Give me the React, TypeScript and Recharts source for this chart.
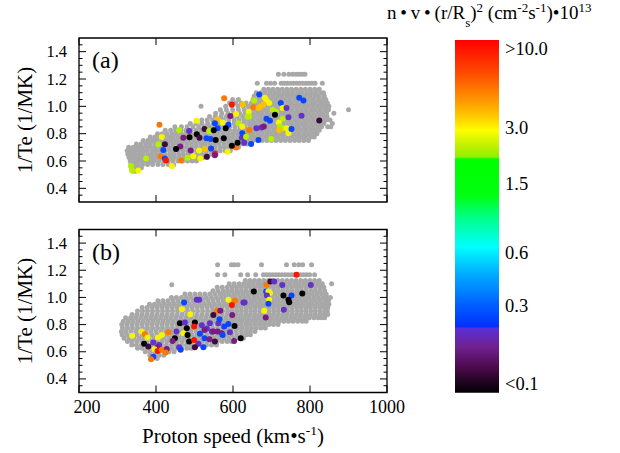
import React from 'react';
import { ScatterChart, Scatter, XAxis, YAxis, ReferenceArea, BarChart, Bar } from 'recharts';

const FONT = '"Liberation Serif", "Times New Roman", serif';

// axis ticks
const xTicks = [200, 400, 600, 800, 1000];
const yMajor = [0.4, 0.6, 0.8, 1.0, 1.2, 1.4];
const yMinor = [0.35, 0.45, 0.5, 0.55, 0.65, 0.7, 0.75, 0.85, 0.9, 0.95, 1.05, 1.1, 1.15, 1.25, 1.3, 1.35, 1.45];

// colour classes of the flux (index used in the coloured point lists)
const levelColors = ['#000000', '#3c0c3c', '#7a1c80', '#6432c8', '#0a46ff', '#00e0ff', '#b4f000', '#f5f500', '#ffbe00', '#ff7800', '#ff1400'];

// colour bar
const cbLabels = ['<0.1', '0.3', '0.6', '1.5', '3.0', '>10.0'];
const cbLevels = [0.025, 0.246, 0.397, 0.592, 0.751, 0.975];
const cbStops: [number, string][] = [
  [0, '#ff0000'], [0.1, '#ff5000'], [0.18, '#ffa000'], [0.235, '#ffe000'], [0.255, '#ffff00'],
  [0.3, '#c0f000'], [0.332, '#90f000'], [0.337, '#00ff00'], [0.44, '#00ff10'], [0.5, '#00ff80'],
  [0.586, '#00ffff'], [0.66, '#00b0ff'], [0.75, '#0060ff'], [0.812, '#0030ff'], [0.818, '#5a30d8'],
  [0.87, '#702090'], [0.93, '#4a0a4a'], [1, '#000000'],
];

// panel (a) gray points: [1/Te, speeds...]
const grayARows: number[][] = [
  [0.525, 340, 347],
  [0.55, 337, 345, 355, 362],
  [0.575, 335, 343, 352, 365, 378, 391, 405, 418, 432, 446],
  [0.6, 333, 341, 351, 361, 372, 384, 395, 407, 420, 432, 444, 457, 469, 482, 494, 505],
  [0.625, 330, 339, 348, 358, 369, 380, 391, 403, 414, 425, 437, 448, 460, 472, 485, 497, 510, 522, 533],
  [0.65, 327, 336, 346, 357, 367, 379, 390, 401, 412, 424, 436, 447, 459, 471, 483, 495, 507, 519, 531, 543, 556],
  [0.675, 325, 334, 345, 356, 366, 377, 389, 400, 411, 423, 435, 446, 458, 470, 482, 494, 506, 518, 530, 542, 555, 567, 580, 593],
  [0.7, 329, 341, 352, 363, 375, 386, 398, 410, 421, 433, 445, 457, 469, 481, 493, 505, 517, 529, 541, 553, 566, 578, 590, 602, 614],
  [0.725, 349, 361, 373, 385, 397, 409, 420, 432, 444, 456, 468, 480, 492, 504, 516, 528, 540, 552, 564, 577, 589, 601, 613, 625, 636],
  [0.75, 367, 379, 391, 403, 415, 427, 439, 451, 463, 475, 487, 499, 511, 523, 535, 547, 559, 571, 583, 595, 607, 619, 631, 641, 652, 664, 676, 688, 700, 712, 724, 736, 748, 760, 772, 784, 796],
  [0.775, 385, 397, 409, 421, 433, 445, 457, 469, 481, 493, 505, 517, 529, 541, 553, 565, 577, 589, 601, 613, 625, 637, 647, 658, 670, 682, 694, 706, 718, 730, 742, 754, 766, 778, 790, 802, 811],
  [0.8, 404, 416, 428, 441, 453, 466, 478, 490, 502, 514, 526, 538, 550, 562, 575, 587, 599, 611, 623, 635, 646, 652, 664, 676, 688, 700, 712, 724, 736, 748, 760, 772, 784, 796, 808, 818],
  [0.825, 424, 438, 451, 465, 478, 491, 504, 517, 529, 542, 555, 567, 579, 591, 604, 616, 628, 640, 648, 658, 670, 682, 694, 706, 718, 730, 742, 754, 766, 778, 790, 802, 814, 824],
  [0.85, 449, 466, 481, 496, 511, 525, 539, 552, 565, 578, 591, 605, 618, 631, 644, 652, 664, 676, 688, 700, 712, 724, 736, 748, 760, 772, 784, 796, 808, 820, 830, 846, 854],
  [0.875, 489, 504, 519, 534, 548, 561, 575, 589, 603, 617, 629, 641, 648, 658, 670, 682, 694, 706, 718, 730, 742, 754, 766, 778, 790, 802, 814, 826, 836, 858],
  [0.9, 519, 533, 547, 561, 575, 589, 603, 616, 629, 640, 652, 664, 676, 688, 700, 712, 724, 736, 748, 760, 772, 784, 796, 808, 820, 832, 841, 852],
  [0.925, 539, 554, 569, 583, 597, 611, 625, 637, 647, 658, 670, 682, 694, 706, 718, 730, 742, 754, 766, 778, 790, 802, 814, 826, 836, 844],
  [0.95, 555, 571, 587, 602, 617, 631, 642, 652, 664, 676, 688, 700, 712, 724, 736, 748, 760, 772, 784, 796, 808, 820, 832, 843, 862],
  [0.975, 567, 583, 599, 614, 629, 641, 648, 658, 670, 682, 694, 706, 718, 730, 742, 754, 766, 778, 790, 802, 814, 826, 838, 848, 900],
  [1.0, 517, 581, 597, 613, 627, 640, 652, 664, 676, 688, 700, 712, 724, 736, 748, 760, 772, 784, 796, 808, 820, 832, 842, 849],
  [1.025, 591, 607, 621, 634, 648, 658, 670, 682, 694, 706, 718, 730, 742, 754, 766, 778, 790, 802, 814, 826, 837, 845],
  [1.05, 599, 614, 652, 664, 676, 688, 700, 712, 724, 736, 748, 760, 772, 784, 796, 808, 820, 832, 841],
  [1.075, 655, 668, 680, 692, 704, 716, 728, 740, 752, 764, 776, 788, 800, 812, 824, 837],
  [1.1, 660, 672, 684, 696, 708, 720, 732, 744, 756, 768, 780, 792, 804, 816, 828, 835],
  [1.125, 680, 692, 704, 716, 728, 740, 752, 764, 776, 788, 800, 812, 824],
  [1.168, 663, 687, 697, 708, 725, 733, 741, 749, 757, 765, 773, 781, 789, 797, 805, 813, 832],
  [1.235, 718, 732, 745, 755, 764, 772, 780, 787],
];

// panel (a) coloured points: [speed, 1/Te, colour class]
const colorA: number[][] = [
  [577, 1.06, 9], [597, 1.013, 10], [625, 1.013, 8], [409, 0.866, 9], [593, 0.93, 2], [608, 0.944, 7],
  [638, 0.924, 6], [505, 0.894, 7], [559, 0.904, 8], [573, 0.882, 7], [614, 0.877, 6], [624, 0.852, 7],
  [588, 0.865, 4], [553, 0.877, 4], [560, 0.84, 4], [526, 0.835, 1], [538, 0.82, 6], [581, 0.84, 0],
  [550, 0.825, 0], [486, 0.82, 3], [460, 0.825, 6], [506, 0.796, 0], [471, 0.771, 2], [487, 0.773, 0],
  [513, 0.771, 1], [531, 0.766, 4], [542, 0.761, 4], [555, 0.754, 0], [576, 0.766, 0], [623, 0.771, 3],
  [415, 0.776, 7], [406, 0.722, 6], [423, 0.722, 1], [463, 0.707, 2], [452, 0.687, 0], [419, 0.68, 4],
  [412, 0.635, 9], [423, 0.618, 4], [426, 0.603, 10], [374, 0.618, 6], [441, 0.563, 7], [465, 0.603, 9],
  [482, 0.623, 6], [497, 0.635, 7], [490, 0.677, 2], [512, 0.677, 7], [527, 0.687, 8], [543, 0.692, 4],
  [553, 0.655, 10], [553, 0.642, 2], [532, 0.632, 1], [515, 0.618, 7], [586, 0.667, 7], [608, 0.699, 9],
  [597, 0.712, 0], [612, 0.734, 0], [629, 0.734, 3], [335, 0.563, 6], [338, 0.531, 6], [354, 0.531, 7],
  [668, 1.087, 4], [655, 1.042, 6], [683, 1.062, 7], [687, 1.042, 7], [694, 1.025, 7], [653, 0.993, 9],
  [666, 0.988, 8], [672, 1.0, 8], [679, 1.013, 8], [641, 0.96, 7], [642, 0.926, 6], [724, 1.025, 4],
  [772, 1.062, 4], [783, 1.042, 4], [703, 0.975, 6], [712, 0.96, 6], [729, 0.988, 7], [739, 0.988, 3],
  [709, 0.939, 0], [687, 0.909, 4], [696, 0.894, 4], [729, 0.909, 6], [744, 0.921, 3], [778, 0.931, 3],
  [824, 0.896, 1], [719, 0.882, 7], [722, 0.852, 6], [729, 0.84, 6], [739, 0.84, 7], [744, 0.803, 7],
  [720, 0.827, 8], [752, 0.835, 4], [661, 0.84, 3], [674, 0.845, 3], [680, 0.852, 2], [642, 0.827, 9],
  [624, 0.803, 4], [634, 0.778, 6], [647, 0.724, 4], [666, 0.753, 4], [699, 0.761, 6],
];

// panel (b) gray points: [1/Te, speeds...]
const grayBRows: number[][] = [
  [0.55, 391, 403],
  [0.575, 384, 396, 408, 420],
  [0.6, 372, 384, 396, 408, 421, 434, 447],
  [0.625, 352, 364, 377, 389, 402, 415, 428, 441, 454, 467, 480, 491],
  [0.65, 337, 349, 362, 375, 388, 401, 414, 427, 440, 453, 466, 479, 492, 505, 518, 531, 544, 557],
  [0.675, 326, 338, 351, 364, 377, 390, 403, 416, 429, 442, 455, 468, 481, 494, 507, 520, 533, 546, 559, 572, 585, 596],
  [0.7, 317, 330, 343, 356, 369, 382, 395, 408, 421, 434, 447, 460, 473, 486, 499, 512, 525, 538, 551, 564, 577, 590, 603, 616, 627],
  [0.725, 312, 324, 337, 350, 363, 376, 389, 402, 415, 428, 441, 454, 467, 480, 493, 506, 519, 532, 545, 558, 571, 584, 597, 610, 623, 635, 645],
  [0.75, 310, 322, 335, 348, 361, 374, 387, 400, 413, 426, 439, 452, 465, 478, 491, 504, 517, 530, 543, 556, 569, 582, 595, 608, 621, 633, 645, 657],
  [0.775, 313, 326, 339, 352, 365, 378, 391, 404, 417, 430, 443, 456, 469, 482, 495, 508, 521, 534, 547, 560, 573, 586, 599, 612, 624, 636, 648, 660, 672, 684],
  [0.8, 311, 324, 337, 350, 363, 376, 389, 402, 415, 428, 441, 454, 467, 480, 493, 506, 519, 532, 545, 558, 571, 584, 597, 609, 621, 633, 645, 657, 669, 681, 693, 705, 717],
  [0.825, 315, 328, 341, 354, 367, 380, 393, 406, 419, 432, 445, 458, 471, 484, 497, 510, 523, 536, 549, 562, 575, 588, 600, 612, 624, 636, 648, 660, 672, 684, 696, 708, 720, 732, 744, 756, 768, 780, 790],
  [0.85, 321, 334, 347, 360, 373, 386, 399, 412, 425, 438, 451, 464, 477, 490, 503, 516, 529, 542, 555, 568, 581, 594, 606, 618, 630, 642, 654, 666, 678, 690, 702, 714, 726, 738, 750, 762, 774, 786, 798, 810, 821, 830, 838],
  [0.875, 338, 351, 364, 377, 390, 403, 416, 429, 442, 455, 468, 481, 494, 507, 520, 533, 546, 559, 572, 585, 597, 609, 621, 633, 645, 657, 669, 681, 693, 705, 717, 729, 741, 753, 765, 777, 789, 801, 813, 825, 836, 846],
  [0.9, 352, 365, 378, 391, 404, 417, 430, 443, 456, 469, 482, 495, 508, 521, 534, 547, 560, 573, 586, 598, 610, 622, 634, 646, 658, 670, 682, 694, 706, 718, 730, 742, 754, 766, 778, 790, 802, 814, 826, 838, 845],
  [0.925, 364, 377, 390, 403, 416, 429, 442, 455, 468, 481, 494, 507, 520, 533, 546, 559, 572, 585, 597, 609, 621, 633, 645, 657, 669, 681, 693, 705, 717, 729, 741, 753, 765, 777, 789, 801, 813, 825, 837, 846],
  [0.95, 383, 396, 409, 422, 435, 448, 461, 474, 487, 500, 513, 526, 539, 552, 565, 578, 590, 602, 614, 626, 638, 650, 662, 674, 686, 698, 710, 722, 734, 746, 758, 770, 782, 794, 806, 818, 830, 841, 849],
  [0.975, 405, 418, 431, 444, 457, 470, 483, 496, 509, 522, 535, 548, 561, 574, 586, 598, 610, 622, 634, 646, 658, 670, 682, 694, 706, 718, 730, 742, 754, 766, 778, 790, 802, 814, 826, 838, 848],
  [1.0, 440, 453, 466, 479, 492, 505, 518, 531, 544, 557, 570, 582, 594, 606, 618, 630, 642, 654, 666, 678, 690, 702, 714, 726, 738, 750, 762, 774, 786, 798, 810, 822, 834, 845, 853],
  [1.025, 475, 488, 501, 514, 527, 540, 553, 566, 578, 590, 602, 614, 626, 638, 650, 662, 674, 686, 698, 710, 722, 734, 746, 758, 770, 782, 794, 806, 818, 830, 842],
  [1.05, 548, 561, 574, 586, 598, 610, 622, 634, 646, 658, 670, 682, 694, 706, 718, 730, 742, 754, 766, 778, 790, 802, 814, 826, 838],
  [1.075, 559, 572, 585, 597, 609, 621, 633, 645, 657, 669, 681, 693, 705, 717, 729, 741, 753, 765, 777, 789, 801, 813, 825, 836],
  [1.093, 441],
  [1.1, 590, 603, 616, 628, 640, 652, 664, 676, 688, 700, 712, 724, 736, 748, 760, 772, 784, 796, 808, 820, 832, 856],
  [1.125, 632, 644, 656, 668, 680, 692, 704, 716, 728, 740, 752, 764, 776, 788, 800, 812, 824],
  [1.167, 560, 579, 620, 638, 659, 679, 687, 695, 703, 711, 719, 727, 735, 743, 751, 759, 767, 775, 783, 791, 799, 812],
  [1.24, 560, 596, 604, 613, 674, 739, 759, 771, 781, 804],
];

// panel (b) coloured points: [speed, 1/Te, colour class]
const colorB: number[][] = [
  [473, 0.962, 4], [506, 0.982, 3], [512, 0.982, 3], [467, 0.913, 7], [489, 0.876, 7], [558, 0.901, 9],
  [605, 0.975, 9], [597, 0.945, 10], [588, 0.982, 7], [549, 0.871, 1], [567, 0.901, 2], [598, 0.871, 2],
  [627, 0.962, 3], [462, 0.81, 0], [475, 0.815, 3], [501, 0.815, 0], [480, 0.773, 0], [499, 0.785, 10],
  [453, 0.749, 3], [471, 0.736, 7], [482, 0.724, 0], [449, 0.7, 0], [486, 0.675, 0], [499, 0.687, 10],
  [519, 0.795, 3], [532, 0.771, 3], [526, 0.761, 2], [514, 0.732, 4], [526, 0.7, 4], [545, 0.749, 3],
  [540, 0.81, 3], [562, 0.81, 3], [565, 0.84, 4], [577, 0.785, 4], [588, 0.805, 4], [549, 0.749, 2],
  [560, 0.749, 2], [571, 0.736, 2], [592, 0.744, 3], [604, 0.79, 0], [573, 0.724, 4], [539, 0.692, 2],
  [553, 0.675, 1], [603, 0.68, 2], [620, 0.7, 0], [510, 0.658, 3], [523, 0.633, 4], [501, 0.633, 1],
  [460, 0.633, 3], [464, 0.614, 4], [443, 0.68, 2], [432, 0.744, 9], [415, 0.724, 7], [405, 0.704, 7],
  [338, 0.717, 7], [363, 0.749, 7], [371, 0.729, 9], [378, 0.704, 7], [369, 0.658, 0], [380, 0.638, 1],
  [393, 0.668, 3], [408, 0.65, 3], [404, 0.633, 2], [396, 0.618, 7], [404, 0.606, 10], [415, 0.614, 9],
  [428, 0.621, 2], [425, 0.594, 9], [393, 0.564, 4], [387, 0.545, 9],
  [765, 1.167, 10], [687, 1.093, 9], [697, 1.118, 1], [707, 1.118, 3], [728, 1.091, 3], [802, 1.091, 3],
  [654, 1.044, 0], [686, 1.044, 4], [692, 1.044, 7], [696, 1.032, 7], [688, 1.015, 3], [731, 1.015, 0],
  [752, 1.015, 4], [780, 1.029, 0], [744, 0.983, 0], [746, 0.965, 0], [694, 0.983, 7], [692, 0.953, 4],
  [681, 0.902, 7], [732, 0.909, 3], [685, 0.852, 2], [630, 0.963, 3],
];

const rowsToPoints = (rows: number[][]) =>
  rows.flatMap((r) => r.slice(1).map((x) => ({ x, y: r[0] })));
const colored = (pts: number[][]) => pts.map((p) => ({ x: p[0], y: p[1], c: p[2] }));

const yTicksAll = [...yMajor, ...yMinor].sort((a, b) => a - b);
const cbData = [{ name: 'flux', v: 1 }];

const PW = 308;

function Panel(props: {
  gray: { x: number; y: number }[];
  pts: { x: number; y: number; c: number }[];
  tag: string;
  showXLabels: boolean;
  height: number;
  marginTop: number;
  xAxisHeight: number;
}) {
  const { gray, pts, tag, showXLabels, height, marginTop, xAxisHeight } = props;
  const PH = height - marginTop - xAxisHeight;
  const yTick = (p: any) => {
    const v = p.payload.value;
    const major = yMajor.includes(v);
    const len = major ? 7 : 3.5;
    return (
      <g>
        <line x1={p.x} y1={p.y} x2={p.x + len} y2={p.y} stroke="#000" strokeWidth={1} />
        <line x1={p.x + PW} y1={p.y} x2={p.x + PW - len} y2={p.y} stroke="#000" strokeWidth={1} />
        {major && (
          <text x={p.x - 12} y={p.y} textAnchor="end" dominantBaseline="central" fontSize={16.5} fontFamily={FONT} fill="#000">
            {v.toFixed(1)}
          </text>
        )}
      </g>
    );
  };
  const xTick = (p: any) => {
    const v = p.payload.value;
    const shift = v === xTicks[0] ? 8 : 0;
    return (
      <g>
        <line x1={p.x} y1={p.y} x2={p.x} y2={p.y - 7} stroke="#000" strokeWidth={1} />
        <line x1={p.x} y1={p.y - PH} x2={p.x} y2={p.y - PH + 7} stroke="#000" strokeWidth={1} />
        {showXLabels && (
          <text x={p.x + shift} y={p.y + 20.5} textAnchor="middle" fontSize={18} fontFamily={FONT} fill="#000">
            {v}
          </text>
        )}
      </g>
    );
  };
  return (
    <ScatterChart width={430} height={height} margin={{ top: marginTop, right: 43, bottom: 0, left: 29 }}>
      <XAxis
        type="number"
        dataKey="x"
        domain={[200, 1000]}
        ticks={xTicks}
        interval={0}
        height={xAxisHeight}
        axisLine={false}
        tickLine={false}
        tickSize={0}
        tickMargin={0}
        tick={xTick}
        allowDataOverflow
        label={
          showXLabels
            ? (lp: any) => {
                const vb = lp.viewBox;
                return (
                  <text x={vb.x + vb.width / 2} y={vb.y + 50.5} textAnchor="middle" fontSize={21} fontFamily={FONT} fill="#000">
                    Proton speed (km•s
                    <tspan dy={-8} fontSize={13.5}>-1</tspan>
                    <tspan dy={8}>)</tspan>
                  </text>
                );
              }
            : undefined
        }
      />
      <YAxis
        type="number"
        dataKey="y"
        domain={[0.3, 1.5]}
        ticks={yTicksAll}
        interval={0}
        width={50}
        axisLine={false}
        tickLine={false}
        tickSize={0}
        tickMargin={0}
        tick={yTick}
        allowDataOverflow
        label={(lp: any) => {
          const vb = lp.viewBox;
          const cx = vb.x - 4;
          const cy = vb.y + vb.height / 2;
          return (
            <text x={cx} y={cy} transform={`rotate(-90 ${cx} ${cy})`} textAnchor="middle" dominantBaseline="central" fontSize={21} fontFamily={FONT} fill="#000">
              1/Te (1/MK)
            </text>
          );
        }}
      />
      <Scatter
        data={gray}
        isAnimationActive={false}
        shape={(sp: any) => <circle cx={sp.cx} cy={sp.cy} r={2.5} fill="#a8a8a8" />}
      />
      <Scatter
        data={pts}
        isAnimationActive={false}
        shape={(sp: any) => {
          const c = sp.payload ? sp.payload.c : sp.c;
          return <circle cx={sp.cx} cy={sp.cy} r={3} fill={levelColors[c]} />;
        }}
      />
      <ReferenceArea
        x1={200}
        x2={1000}
        y1={0.3}
        y2={1.5}
        fill="none"
        fillOpacity={0}
        stroke="#000"
        strokeWidth={1.3}
        label={(lp: any) => {
          const vb = lp.viewBox;
          return (
            <text x={vb.x + 13} y={vb.y + 30} fontSize={24} fontFamily={FONT} fill="#000">
              {tag}
            </text>
          );
        }}
      />
    </ScatterChart>
  );
}

function ColorBar() {
  const tick = (p: any) => {
    const i = cbLevels.indexOf(p.payload.value);
    return (
      <text x={p.x + 6} y={p.y} dominantBaseline="central" fontSize={18.5} fontFamily={FONT} fill="#000">
        {cbLabels[i]}
      </text>
    );
  };
  return (
    <BarChart width={620} height={453} data={cbData} margin={{ top: 0, right: 0, bottom: 60.3, left: 455 }} barCategoryGap={0} barGap={0}>
      <defs>
        <linearGradient id="cbGrad" x1="0" y1="0" x2="0" y2="1">
          {cbStops.map(([o, c]) => (
            <stop key={o} offset={o} stopColor={c} />
          ))}
        </linearGradient>
      </defs>
      <XAxis
        dataKey="name"
        orientation="top"
        height={40}
        tick={false}
        axisLine={false}
        tickLine={false}
        label={() => (
          <text x={387} y={19} fontSize={19} fontFamily={FONT} fill="#000">
            n{'\u2009'}•{'\u2009'}v{'\u2009'}•{'\u2009'}(r/R
            <tspan dy={8} fontSize={13}>s</tspan>
            <tspan dy={-8}>)</tspan>
            <tspan dy={-7.5} fontSize={13}>2</tspan>
            <tspan dy={7.5}> (cm</tspan>
            <tspan dy={-7.5} fontSize={13}>-2</tspan>
            <tspan dy={7.5}>s</tspan>
            <tspan dy={-7.5} fontSize={13}>-1</tspan>
            <tspan dy={7.5}>)•10</tspan>
            <tspan dy={-7.5} fontSize={13}>13</tspan>
          </text>
        )}
      />
      <YAxis
        orientation="right"
        type="number"
        domain={[0, 1]}
        ticks={cbLevels}
        interval={0}
        width={121}
        axisLine={false}
        tickLine={false}
        tickSize={0}
        tickMargin={0}
        tick={tick}
      />
      <Bar dataKey="v" fill="url(#cbGrad)" isAnimationActive={false} />
    </BarChart>
  );
}

export default function App() {
  const grayA = rowsToPoints(grayARows);
  const grayB = rowsToPoints(grayBRows);
  return (
    <div style={{ position: 'absolute', left: 0, top: 0, width: 620, height: 453, background: '#fff', fontFamily: FONT }}>
      <div style={{ position: 'absolute', left: 0, top: 0 }}>
        <ColorBar />
      </div>
      <div style={{ position: 'absolute', left: 0, top: 0 }}>
        <Panel gray={grayA} pts={colored(colorA)} tag="(a)" showXLabels={false} height={232} marginTop={38} xAxisHeight={30} />
      </div>
      <div style={{ position: 'absolute', left: 0, top: 0 }}>
        <Panel gray={grayB} pts={colored(colorB)} tag="(b)" showXLabels={true} height={453} marginTop={229.5} xAxisHeight={60.5} />
      </div>
    </div>
  );
}
